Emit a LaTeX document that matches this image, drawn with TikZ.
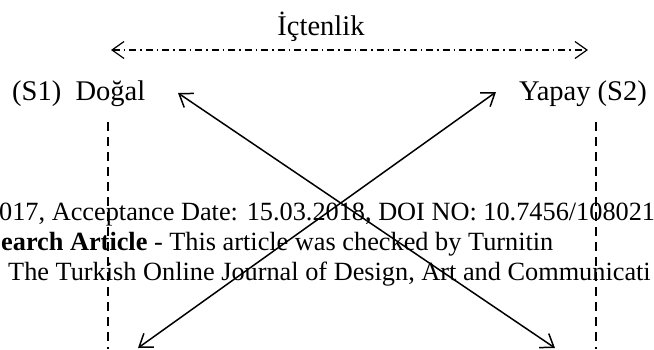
\documentclass[tikz,border=0pt]{standalone}
\usepackage{fontspec}
\setmainfont{Liberation Serif}
\usetikzlibrary{arrows.meta}
\begin{document}
\begin{tikzpicture}[x=1pt,y=-1pt,
  lbl/.style={inner sep=0pt, font=\fontsize{28.5}{33}\selectfont},
  wm/.style={inner sep=0pt, anchor=base west, font=\fontsize{26.3}{30}\selectfont},
  barb/.tip={Straight Barb[length=12pt,width=17pt]},
  biarrow/.style={line width=1.5pt, barb-barb},
  dashdotline/.style={line width=1.2pt, dash pattern=on 7pt off 4pt on 1.5pt off 4pt, barb-barb},
  guide/.style={line width=1.3pt, dash pattern=on 9pt off 6pt}]
\path[use as bounding box] (0,0) rectangle (654,349);
\clip (0,0) rectangle (654,349);
% watermark text lines
\node[wm] (w1) at (-1,220) {017, Acceptance Date: 15.03.2018, DOI NO: 10.7456/108021};
\node[wm] (w2) at (1,250) {\textbf{earch Article} - This article was checked by Turnitin};
\node[wm] (w3) at (8,280) {The Turkish Online Journal of Design, Art and Communicati};
% labels
\node[lbl, anchor=base] (title) at (321,35) {İçtenlik};
\node[lbl, anchor=base west] (s1) at (12,100) {(S1)~ Doğal};
\node[lbl, anchor=base east] (s2) at (647,100) {Yapay (S2)};
% dash-dot double arrow
\coordinate (dl) at (111,50);
\coordinate (dr) at (588,50);
\draw[dashdotline] (dl) -- (dr);
% vertical dashed guides
\coordinate (gl1) at (108,122);
\coordinate (gl2) at (108,349);
\coordinate (gr1) at (596,122);
\coordinate (gr2) at (596,349);
\draw[guide] (gl1) -- (gl2);
\draw[guide] (gr1) -- (gr2);
% crossing arrows
\coordinate (tl) at (178,93);
\coordinate (tr) at (496,92);
\coordinate (bl) at (138,348);
\coordinate (br) at (555,348);
\draw[biarrow] (bl) -- (tr);
\draw[biarrow] (br) -- (tl);
\end{tikzpicture}
\end{document}
